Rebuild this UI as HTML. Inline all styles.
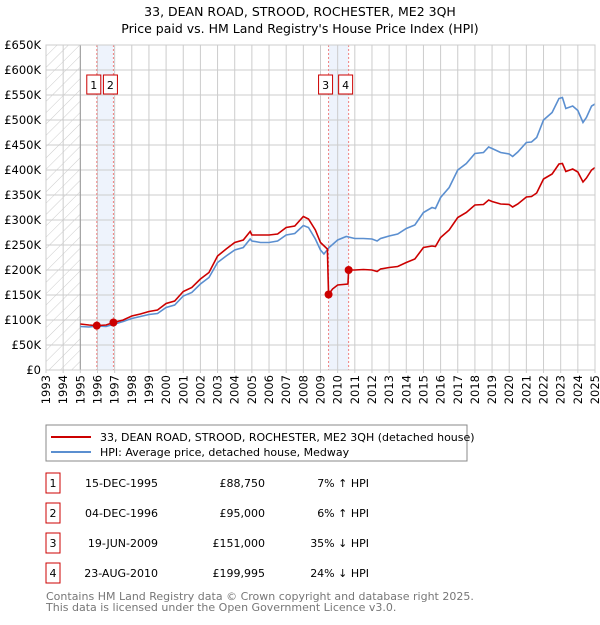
<!DOCTYPE html>
<html><head><meta charset="utf-8"><style>
body{margin:0;background:#fff;font-family:"Liberation Sans","DejaVu Sans",sans-serif;}
svg text{font-family:"DejaVu Sans","Liberation Sans",sans-serif;}
</style></head><body>
<svg id="chart" width="600" height="620" xmlns="http://www.w3.org/2000/svg">
<defs><pattern id="hatch" width="8" height="8" patternUnits="userSpaceOnUse" patternTransform="rotate(45)"><line x1="0" y1="0" x2="0" y2="8" stroke="#ccc" stroke-width="1"/></pattern></defs>
<text x="300" y="16" text-anchor="middle" font-size="12.5">33, DEAN ROAD, STROOD, ROCHESTER, ME2 3QH</text>
<text x="300" y="33" text-anchor="middle" font-size="12.5">Price paid vs. HM Land Registry's House Price Index (HPI)</text>
<g id="plot"></g>
<g id="legend">
<rect x="46" y="425" width="421" height="36" fill="#fff" stroke="#888"/>
<line x1="51" y1="437" x2="91" y2="437" stroke="#cc0000" stroke-width="2"/>
<text x="100" y="441" font-size="11">33, DEAN ROAD, STROOD, ROCHESTER, ME2 3QH (detached house)</text>
<line x1="51" y1="452" x2="91" y2="452" stroke="#5b8fd0" stroke-width="2"/>
<text x="100" y="456" font-size="11">HPI: Average price, detached house, Medway</text>
</g>
<g id="table" font-size="11"></g>
<text x="46" y="600" font-size="11" fill="#777">Contains HM Land Registry data © Crown copyright and database right 2025.</text>
<text x="46" y="611" font-size="11" fill="#777">This data is licensed under the Open Government Licence v3.0.</text>
</svg>
<script>
const hpiYears=[1995.0,1995.5,1996,1996.5,1997,1997.5,1998,1998.5,1999,1999.5,2000,2000.5,2001,2001.5,2002,2002.5,2003,2003.5,2004,2004.5,2004.9,2005,2005.5,2006,2006.5,2007,2007.5,2008,2008.3,2008.7,2009,2009.2,2009.5,2010,2010.5,2011,2011.5,2012,2012.3,2012.5,2013,2013.5,2014,2014.5,2015,2015.5,2015.7,2016,2016.5,2017,2017.5,2018,2018.5,2018.8,2019,2019.5,2020,2020.2,2020.5,2021,2021.3,2021.6,2022,2022.5,2022.9,2023.1,2023.3,2023.7,2024,2024.3,2024.5,2024.8,2025];
const hpiValues=[87,86,88,87,92,97,103,107,111,113,125,130,148,155,172,185,215,228,240,245,262,258,255,255,258,270,273,289,285,262,240,232,245,260,267,263,263,262,258,263,268,272,283,290,315,325,323,345,365,400,413,433,435,446,443,435,432,427,436,455,456,465,500,515,543,545,523,528,519,495,505,528,532];
const priceYears=[1995.0,1995.5,1995.96,1996.5,1996.93,1997.5,1998,1998.5,1999,1999.5,2000,2000.5,2001,2001.5,2002,2002.5,2003,2003.5,2004,2004.5,2004.9,2005,2005.5,2006,2006.5,2007,2007.5,2008,2008.3,2008.7,2009,2009.4,2009.47,2009.7,2010,2010.6,2010.64,2011,2011.5,2012,2012.3,2012.5,2013,2013.5,2014,2014.5,2015,2015.5,2015.7,2016,2016.5,2017,2017.5,2018,2018.5,2018.8,2019,2019.5,2020,2020.2,2020.5,2021,2021.3,2021.6,2022,2022.5,2022.9,2023.1,2023.3,2023.7,2024,2024.3,2024.5,2024.8,2025];
const priceValues=[92,90,88.75,90,95,100,108,112,117,120,133,138,157,165,182,195,228,242,255,260,277,270,270,270,272,285,288,307,302,280,255,242,151,162,170,172,199.995,200,201,200,197,202,205,207,215,222,245,248,247,265,280,305,315,330,331,340,337,332,331,326,332,346,347,354,382,392,412,413,397,402,396,376,384,400,405];
const saleLabels=["1","2","3","4"];
const saleYears=[1995.96,1996.93,2009.47,2010.64];
const salePrices=[88.75,95,151,199.995];
const saleDates=["15-DEC-1995","04-DEC-1996","19-JUN-2009","23-AUG-2010"];
const salePriceText=["£88,750","£95,000","£151,000","£199,995"];
const saleHpiText=["7% ↑ HPI","6% ↑ HPI","35% ↓ HPI","24% ↓ HPI"];
const yTicks=[0,50,100,150,200,250,300,350,400,450,500,550,600,650];
const yTickLabels=["£0","£50K","£100K","£150K","£200K","£250K","£300K","£350K","£400K","£450K","£500K","£550K","£600K","£650K"];
const xTicks=[];for(let y=1993;y<=2025;y++)xTicks.push(y);

const X0=46,X1=595,Y0=370,Y1=45;
const xs=v=>X0+(v-1993)/(2025-1993)*(X1-X0);
const ys=v=>Y0-v/650*(Y0-Y1);
const NS="http://www.w3.org/2000/svg";
const plot=document.getElementById('plot');
function mk(tag,attrs,parent){const e=document.createElementNS(NS,tag);for(const k in attrs)e.setAttribute(k,attrs[k]);(parent||plot).appendChild(e);return e;}

const bg=mk('rect',{x:X0,y:Y1,width:X1-X0,height:Y0-Y1,fill:'#fff'});


const hat=mk('rect',{x:X0,y:Y1,width:xs(1995)-X0,height:Y0-Y1,fill:'url(#hatch)'});


for(let i=0;i<saleYears.length;i+=2){
  const b=mk('rect',{x:xs(saleYears[i]),y:Y1,width:xs(saleYears[i+1])-xs(saleYears[i]),height:Y0-Y1,fill:'#eef3fc'});
  
  
}
yTicks.forEach((t,i)=>{
  const l=mk('line',{x1:X0,x2:X1,y1:ys(t),y2:ys(t),stroke:'#ccc','stroke-width':1});
  
  
  const tx=mk('text',{x:X0-5,y:ys(t)+4,'text-anchor':'end','font-size':11.5});
  tx.textContent=yTickLabels[i];
  
  
});
xTicks.forEach(t=>{
  const l=mk('line',{x1:xs(t),x2:xs(t),y1:Y1,y2:Y0+3,stroke:'#ccc','stroke-width':1});
  
  
  const g=mk('g',{transform:'translate('+(xs(t)+4)+','+(Y0+5)+')'});
  const g2=mk('g',{transform:'rotate(-90)'},g);
  const tx=mk('text',{x:0,y:0,'text-anchor':'end','font-size':11.5},g2);
  tx.textContent=t;
  
  
});
const ax=mk('line',{x1:xs(1995),x2:xs(1995),y1:Y1,y2:Y0,stroke:'#999','stroke-width':1});


saleYears.forEach((s,i)=>{
  const l=mk('line',{x1:xs(s),x2:xs(s),y1:Y1,y2:Y0,stroke:'#f08080','stroke-width':1,'stroke-dasharray':'2,2'});
  
  
  const r=mk('rect',{x:xs(s)-10,y:75,width:14,height:19,fill:'#fff',stroke:'#cc0000','stroke-width':1});
  
  
  const t=mk('text',{x:xs(s)-3,y:89,'text-anchor':'middle','font-size':11});
  t.textContent=saleLabels[i];
  
  
});
const hp=mk('polyline',{points:hpiYears.map((y,i)=>xs(y)+','+ys(hpiValues[i])).join(' '),fill:'none',stroke:'#5b8fd0','stroke-width':1.6});


const pp=mk('polyline',{points:priceYears.map((y,i)=>xs(y)+','+ys(priceValues[i])).join(' '),fill:'none',stroke:'#cc0000','stroke-width':1.6});


saleYears.forEach((s,i)=>{
  const c=mk('circle',{cx:xs(s),cy:ys(salePrices[i]),r:4,fill:'#cc0000'});
  
  
});
const fr=mk('rect',{x:X0,y:Y1,width:X1-X0,height:Y0-Y1,fill:'none',stroke:'#ccc'});



const tbl=document.getElementById('table');
saleLabels.forEach((lb,i)=>{
  const cy=483+30*i;
  const r=mk('rect',{x:46,y:cy-10,width:14,height:20,fill:'#fff',stroke:'#cc0000'},tbl);
  
  
  const cells=[[53,lb,'middle','table-sale-number'],[158,saleDates[i],'end','table-sale-date'],[265,salePriceText[i],'end','table-sale-price'],[369,saleHpiText[i],'end','table-sale-hpi-diff']];
  cells.forEach(c=>{
    const t=mk('text',{x:c[0],y:cy+4,'text-anchor':c[2]},tbl);
    t.textContent=c[1];
    
    
  });
});
</script>
</body></html>
